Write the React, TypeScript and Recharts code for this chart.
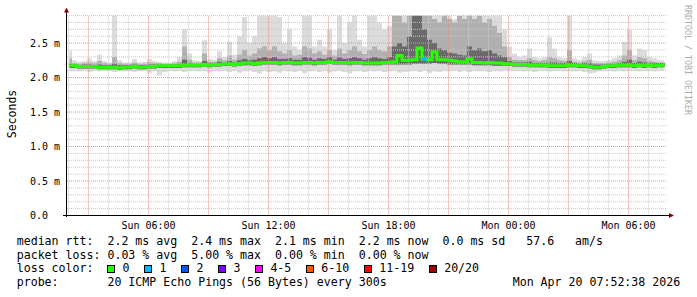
import React from "react";
import { ComposedChart, Area, Line, Scatter, XAxis, YAxis, ReferenceLine } from "recharts";

// time axis in hours since Sun 00:00, one sample per 15 minutes
const START_HOUR = 1.925;
const END_HOUR = 31.925;
const STEP_HOURS = 0.25;

// median rtt (ms)
const median = [
  2.17, 2.17, 2.16, 2.16, 2.16, 2.16, 2.15, 2.15, 2.15, 2.15,
  2.14, 2.15, 2.15, 2.16, 2.15, 2.15, 2.16, 2.16, 2.17, 2.17,
  2.17, 2.17, 2.17, 2.18, 2.18, 2.18, 2.18, 2.19, 2.18, 2.19,
  2.19, 2.2, 2.2, 2.19, 2.2, 2.21, 2.21, 2.2, 2.21, 2.22,
  2.22, 2.22, 2.21, 2.22, 2.22, 2.21, 2.21, 2.22, 2.22, 2.21,
  2.22, 2.22, 2.23, 2.22, 2.22, 2.22, 2.21, 2.22, 2.22, 2.21,
  2.21, 2.21, 2.21, 2.22, 2.22, 2.23, 2.32, 2.25, 2.25, 2.26,
  2.43, 2.27, 2.26, 2.37, 2.26, 2.26, 2.25, 2.24, 2.23, 2.23,
  2.27, 2.22, 2.22, 2.21, 2.22, 2.21, 2.21, 2.2, 2.2, 2.19,
  2.19, 2.19, 2.18, 2.18, 2.18, 2.18, 2.17, 2.17, 2.17, 2.17,
  2.18, 2.18, 2.17, 2.17, 2.16, 2.15, 2.15, 2.16, 2.17, 2.17,
  2.18, 2.18, 2.18, 2.17, 2.18, 2.17, 2.18, 2.17, 2.18, 2.18,
];

// highest ping of each sample (light smoke top)
const smokeMax = [
  2.39, 2.25, 2.23, 2.24, 2.28, 2.24, 2.33, 2.24, 2.22, 2.9,
  2.25, 2.22, 2.22, 2.27, 2.22, 2.23, 2.27, 2.24, 2.23, 2.22,
  2.22, 2.24, 2.3, 2.7, 2.35, 2.25, 2.24, 2.54, 2.27, 2.26,
  2.38, 2.3, 2.52, 2.33, 2.6, 2.88, 2.5, 2.6, 2.9, 2.9,
  2.9, 2.9, 2.88, 2.5, 2.7, 2.45, 2.4, 2.9, 2.9, 2.45,
  2.55, 2.45, 2.7, 2.4, 2.9, 2.5, 2.8, 2.9, 2.55, 2.45,
  2.9, 2.9, 2.8, 2.7, 2.75, 2.9, 2.9, 2.9, 2.9, 2.9,
  2.9, 2.9, 2.9, 2.9, 2.9, 2.9, 2.9, 2.85, 2.8, 2.9,
  2.9, 2.9, 2.9, 2.9, 2.9, 2.9, 2.9, 2.7, 2.45, 2.35,
  2.3, 2.32, 2.42, 2.3, 2.28, 2.3, 2.58, 2.42, 2.3, 2.28,
  2.9, 2.28, 2.26, 2.3, 2.35, 2.25, 2.24, 2.24, 2.26, 2.28,
  2.32, 2.52, 2.69, 2.32, 2.42, 2.4, 2.3, 2.28, 2.26, 2.25,
];

// upper end of the middle smoke band
const smokeMid = [
  2.28, 2.21, 2.2, 2.21, 2.22, 2.21, 2.24, 2.21, 2.2, 2.3,
  2.21, 2.2, 2.2, 2.22, 2.2, 2.2, 2.22, 2.21, 2.21, 2.2,
  2.2, 2.21, 2.23, 2.45, 2.26, 2.22, 2.22, 2.35, 2.23, 2.23,
  2.28, 2.25, 2.32, 2.26, 2.33, 2.4, 2.32, 2.35, 2.42, 2.45,
  2.4, 2.45, 2.38, 2.35, 2.4, 2.32, 2.33, 2.45, 2.42, 2.35,
  2.38, 2.33, 2.4, 2.32, 2.42, 2.35, 2.4, 2.45, 2.38, 2.34,
  2.4, 2.45, 2.4, 2.38, 2.45, 2.9, 2.9, 2.8, 2.9, 2.9,
  2.9, 2.9, 2.9, 2.85, 2.8, 2.9, 2.85, 2.8, 2.9, 2.85,
  2.9, 2.85, 2.9, 2.8, 2.85, 2.75, 2.65, 2.45, 2.3, 2.26,
  2.25, 2.25, 2.28, 2.25, 2.24, 2.25, 2.3, 2.28, 2.25, 2.24,
  2.4, 2.23, 2.22, 2.24, 2.26, 2.21, 2.21, 2.21, 2.22, 2.23,
  2.25, 2.32, 2.4, 2.25, 2.3, 2.28, 2.24, 2.23, 2.22, 2.22,
];

// upper end of the dark core band
const smokeCore = [
  2.2, 2.19, 2.18, 2.19, 2.19, 2.18, 2.19, 2.18, 2.18, 2.2,
  2.18, 2.18, 2.18, 2.19, 2.18, 2.18, 2.19, 2.19, 2.19, 2.19,
  2.19, 2.19, 2.2, 2.26, 2.21, 2.2, 2.2, 2.24, 2.21, 2.21,
  2.23, 2.22, 2.24, 2.22, 2.25, 2.27, 2.25, 2.26, 2.28, 2.3,
  2.28, 2.3, 2.27, 2.27, 2.28, 2.26, 2.26, 2.3, 2.29, 2.26,
  2.28, 2.27, 2.3, 2.26, 2.29, 2.27, 2.28, 2.3, 2.28, 2.26,
  2.28, 2.3, 2.28, 2.27, 2.3, 2.45, 2.5, 2.45, 2.6, 2.9,
  2.9, 2.7, 2.55, 2.5, 2.42, 2.4, 2.36, 2.35, 2.33, 2.32,
  2.45, 2.4, 2.42, 2.38, 2.4, 2.35, 2.32, 2.3, 2.24, 2.22,
  2.22, 2.22, 2.23, 2.21, 2.21, 2.21, 2.22, 2.22, 2.21, 2.21,
  2.24, 2.21, 2.2, 2.21, 2.21, 2.19, 2.19, 2.19, 2.2, 2.2,
  2.21, 2.23, 2.26, 2.21, 2.23, 2.22, 2.21, 2.21, 2.21, 2.21,
];

// lowest ping of each sample (light smoke bottom)
const smokeMin = [
  2.1, 2.1, 2.09, 2.1, 2.08, 2.1, 2.09, 2.1, 2.1, 2.08,
  2.1, 2.09, 2.1, 2.08, 2.1, 2.1, 2.07, 2.09, 2.03, 2.08,
  2.1, 2.09, 2.1, 2.08, 2.1, 2.1, 2.09, 2.1, 2.07, 2.1,
  2.09, 2.1, 2.08, 2.1, 2.07, 2.09, 2.1, 2.08, 2.06, 2.09,
  2.08, 2.09, 2.07, 2.1, 2.09, 2.08, 2.1, 2.06, 2.09, 2.1,
  2.08, 2.1, 2.07, 2.09, 2.1, 2.08, 2.06, 2.09, 2.1, 2.08,
  2.1, 2.09, 2.1, 2.08, 2.09, 2.1, 2.07, 2.08, 2.09, 2.1,
  2.08, 2.1, 2.07, 2.09, 2.08, 2.1, 2.09, 2.1, 2.08, 2.1,
  2.08, 2.1, 2.09, 2.1, 2.08, 2.1, 2.09, 2.1, 2.1, 2.09,
  2.1, 2.09, 2.1, 2.08, 2.1, 2.1, 2.09, 2.1, 2.1, 2.09,
  2.1, 2.09, 2.1, 2.08, 2.06, 2.07, 2.09, 2.1, 2.1, 2.09,
  2.1, 2.09, 2.1, 2.1, 2.09, 2.1, 2.1, 2.09, 2.1, 2.1,
];

// lower end of the darker bands
const coreMin = [
  2.14, 2.14, 2.13, 2.13, 2.13, 2.13, 2.12, 2.12, 2.12, 2.12,
  2.11, 2.12, 2.12, 2.13, 2.12, 2.12, 2.13, 2.13, 2.14, 2.14,
  2.14, 2.14, 2.14, 2.15, 2.15, 2.15, 2.15, 2.16, 2.15, 2.16,
  2.16, 2.17, 2.17, 2.16, 2.17, 2.18, 2.18, 2.17, 2.18, 2.19,
  2.19, 2.19, 2.18, 2.19, 2.19, 2.18, 2.18, 2.19, 2.19, 2.18,
  2.19, 2.19, 2.2, 2.19, 2.19, 2.19, 2.18, 2.19, 2.19, 2.18,
  2.18, 2.18, 2.18, 2.19, 2.19, 2.19, 2.19, 2.19, 2.19, 2.2,
  2.2, 2.2, 2.2, 2.21, 2.2, 2.2, 2.19, 2.19, 2.19, 2.19,
  2.19, 2.18, 2.18, 2.18, 2.18, 2.17, 2.17, 2.17, 2.17, 2.16,
  2.16, 2.16, 2.15, 2.15, 2.15, 2.15, 2.14, 2.14, 2.14, 2.14,
  2.15, 2.15, 2.14, 2.14, 2.13, 2.12, 2.12, 2.13, 2.14, 2.14,
  2.15, 2.15, 2.15, 2.14, 2.15, 2.14, 2.15, 2.14, 2.15, 2.15,
];

// lost pings out of 20 per sample
const lossCount = [
  0, 0, 0, 0, 0, 0, 0, 0, 0, 0, 0, 0, 0, 0, 0, 0, 0, 0, 0, 0,
  0, 0, 0, 0, 0, 0, 0, 0, 0, 0, 0, 0, 0, 0, 0, 0, 0, 0, 0, 0,
  0, 0, 0, 0, 0, 0, 0, 0, 0, 0, 0, 0, 0, 0, 0, 0, 0, 0, 0, 0,
  0, 0, 0, 0, 0, 0, 0, 0, 0, 0, 0, 1, 0, 0, 0, 0, 0, 0, 0, 0,
  0, 0, 0, 0, 0, 0, 0, 0, 0, 0, 0, 0, 0, 0, 0, 0, 0, 0, 0, 0,
  0, 0, 0, 0, 0, 0, 0, 0, 0, 0, 0, 0, 0, 0, 0, 0, 0, 0, 0, 0,
];

const lossLabels = ["0", "1", "2", "3", "4-5", "6-10", "11-19", "20/20"];
const lossColors = ["#26ff00", "#00b8ff", "#0059ff", "#7e00ff", "#ff00ff", "#ff5500", "#ff0000", "#a10000"];
const lossUpper = [0, 1, 2, 3, 5, 10, 19, 20];

const yTicks = [0, 0.5, 1, 1.5, 2, 2.5];
const yTickLabels = ["0.0", "0.5 m", "1.0 m", "1.5 m", "2.0 m", "2.5 m"];
const xLabelHours = [6, 12, 18, 24, 30];
const xLabels = ["Sun 06:00", "Sun 12:00", "Sun 18:00", "Mon 00:00", "Mon 06:00"];

const statRtt = "median rtt:  2.2 ms avg  2.4 ms max  2.1 ms min  2.2 ms now  0.0 ms sd   57.6   am/s";
const statLoss = "packet loss: 0.03 % avg  5.00 % max  0.00 % min  0.00 % now";
const probeText = "probe:       20 ICMP Echo Pings (56 Bytes) every 300s";
const stampText = "Mon Apr 20 07:52:38 2026";

const lossColor = (n: number) => lossColors[lossUpper.findIndex((u) => n <= u)];

const rows = median.map((m, i) => ({
  t: START_HOUR + STEP_HOURS * (i + 0.5),
  med: m,
  outer: [smokeMin[i], smokeMax[i]],
  mid: [coreMin[i], smokeMid[i]],
  core: [coreMin[i], smokeCore[i]],
  loss: lossCount[i],
}));
const lossRows = rows.filter((r) => r.loss > 0);

const minorHours: number[] = [];
for (let h = Math.ceil(START_HOUR); h <= END_HOUR; h++) if (h % 3 !== 0) minorHours.push(h);
const majorHours: number[] = [];
for (let h = Math.ceil(START_HOUR); h <= END_HOUR; h++) if (h % 3 === 0) majorHours.push(h);
const minorValues: number[] = [];
for (let k = 1; k <= 29; k++) if (k % 5 !== 0) minorValues.push(k / 10);

const MONO = "DejaVu Sans Mono";
const GRID = "#c8c8c8";
const MGRID = "#f08a8a";

const XTick = (props: any) => {
  const { x, y, payload } = props;
  const i = xLabelHours.indexOf(payload.value);
  if (i < 0) return null;
  return (
    <text x={x} y={y} dy={8} textAnchor="middle" fontFamily={MONO} fontSize={10} fill="#000">
      {xLabels[i]}
    </text>
  );
};

const YTick = (props: any) => {
  const { y, payload } = props;
  const i = yTicks.indexOf(payload.value);
  return (
    <text x={30} y={y} dy={3.6} textAnchor="start" fontFamily={MONO} fontSize={10} fill="#000">
      {yTickLabels[i]}
    </text>
  );
};

const LossMark = (props: any) => {
  const { cx, cy, payload } = props;
  return <rect x={cx - 2.5} y={cy - 1.5} width={5} height={3} fill={lossColor(payload.loss)} />;
};

export default function App() {
  return (
    <div style={{ position: "absolute", left: 0, top: 0, width: 697, height: 297, background: "#fff", overflow: "hidden" }}>
      <ComposedChart width={697} height={240} data={rows} margin={{ top: 15.5, right: 30, bottom: 4.5, left: 0 }}>
        <XAxis
          type="number"
          dataKey="t"
          domain={[START_HOUR, END_HOUR]}
          ticks={xLabelHours}
          tick={<XTick />}
          tickLine={false}
          axisLine={false}
          tickSize={3}
          tickMargin={2}
          height={20}
          allowDataOverflow
        />
        <YAxis
          type="number"
          domain={[0, 2.9]}
          ticks={yTicks}
          tick={<YTick />}
          tickLine={false}
          axisLine={false}
          width={67}
          allowDataOverflow
        />
        <Area dataKey="outer" type="step" stroke="none" fill="#dcdcdc" fillOpacity={1} isAnimationActive={false} dot={false} activeDot={false} />
        <Area dataKey="mid" type="step" stroke="none" fill="#b0b0b0" fillOpacity={1} isAnimationActive={false} dot={false} activeDot={false} />
        <Area dataKey="core" type="step" stroke="none" fill="#6a6a6a" fillOpacity={1} isAnimationActive={false} dot={false} activeDot={false} />
        {minorValues.map((v) => (
          <ReferenceLine key={"my" + v} y={v} stroke={GRID} strokeDasharray="1 1" />
        ))}
        {minorHours.map((h) => (
          <ReferenceLine key={"mx" + h} x={h} stroke={GRID} strokeDasharray="1 1" />
        ))}
        {yTicks.slice(1).map((v) => (
          <ReferenceLine key={"My" + v} y={v} stroke={MGRID} strokeDasharray="1 1" />
        ))}
        {majorHours.map((h) => (
          <ReferenceLine key={"Mx" + h} x={h} stroke={MGRID} strokeDasharray="1 1" />
        ))}
        <Line dataKey="med" type="step" stroke={lossColors[0]} strokeWidth={3} dot={false} activeDot={false} isAnimationActive={false} />
        <Scatter data={lossRows} dataKey="med" shape={<LossMark />} isAnimationActive={false} />
      </ComposedChart>

      <svg width={697} height={297} style={{ position: "absolute", left: 0, top: 0, pointerEvents: "none" }}>
        <line x1={66.5} y1={12} x2={66.5} y2={217} stroke="#000" strokeWidth={1} />
        <line x1={63} y1={215.5} x2={669} y2={215.5} stroke="#000" strokeWidth={1} />
        <polygon points="64,12.5 69,12.5 66.5,7.5" fill="#8b0000" />
        <polygon points="669,213 669,218 674,215.5" fill="#8b0000" />
        <text transform="translate(16,114) rotate(-90)" textAnchor="middle" fontFamily={MONO} fontSize={11.5} fill="#000">
          Seconds
        </text>
        <text transform="translate(684.5,5) rotate(90)" textAnchor="start" fontFamily={MONO} fontSize={8.3} fill="#ababab">
          RRDTOOL / TOBI OETIKER
        </text>
      </svg>

      <div
        style={{
          position: "absolute",
          left: 16.7,
          top: 234.8,
          fontFamily: MONO,
          fontSize: 11.6,
          lineHeight: "13.7px",
          color: "#000",
          whiteSpace: "pre",
        }}
      >
        <div>{statRtt}</div>
        <div>{statLoss}</div>
        <div style={{ display: "flex", alignItems: "center", height: 13.7 }}>
          <span>{"loss color:  "}</span>
          {lossLabels.map((l, i) => (
            <span key={l} style={{ display: "flex", alignItems: "center" }}>
              <span
                style={{
                  display: "inline-block",
                  width: 8,
                  height: 8,
                  boxSizing: "border-box",
                  border: "1px solid #000",
                  background: lossColors[i],
                  marginRight: 7,
                }}
              />
              <span style={{ marginRight: 15 }}>{l}</span>
            </span>
          ))}
        </div>
        <div style={{ position: "relative" }}>
          {probeText}
          <span style={{ position: "absolute", left: 496, top: 0 }}>{stampText}</span>
        </div>
      </div>
    </div>
  );
}
